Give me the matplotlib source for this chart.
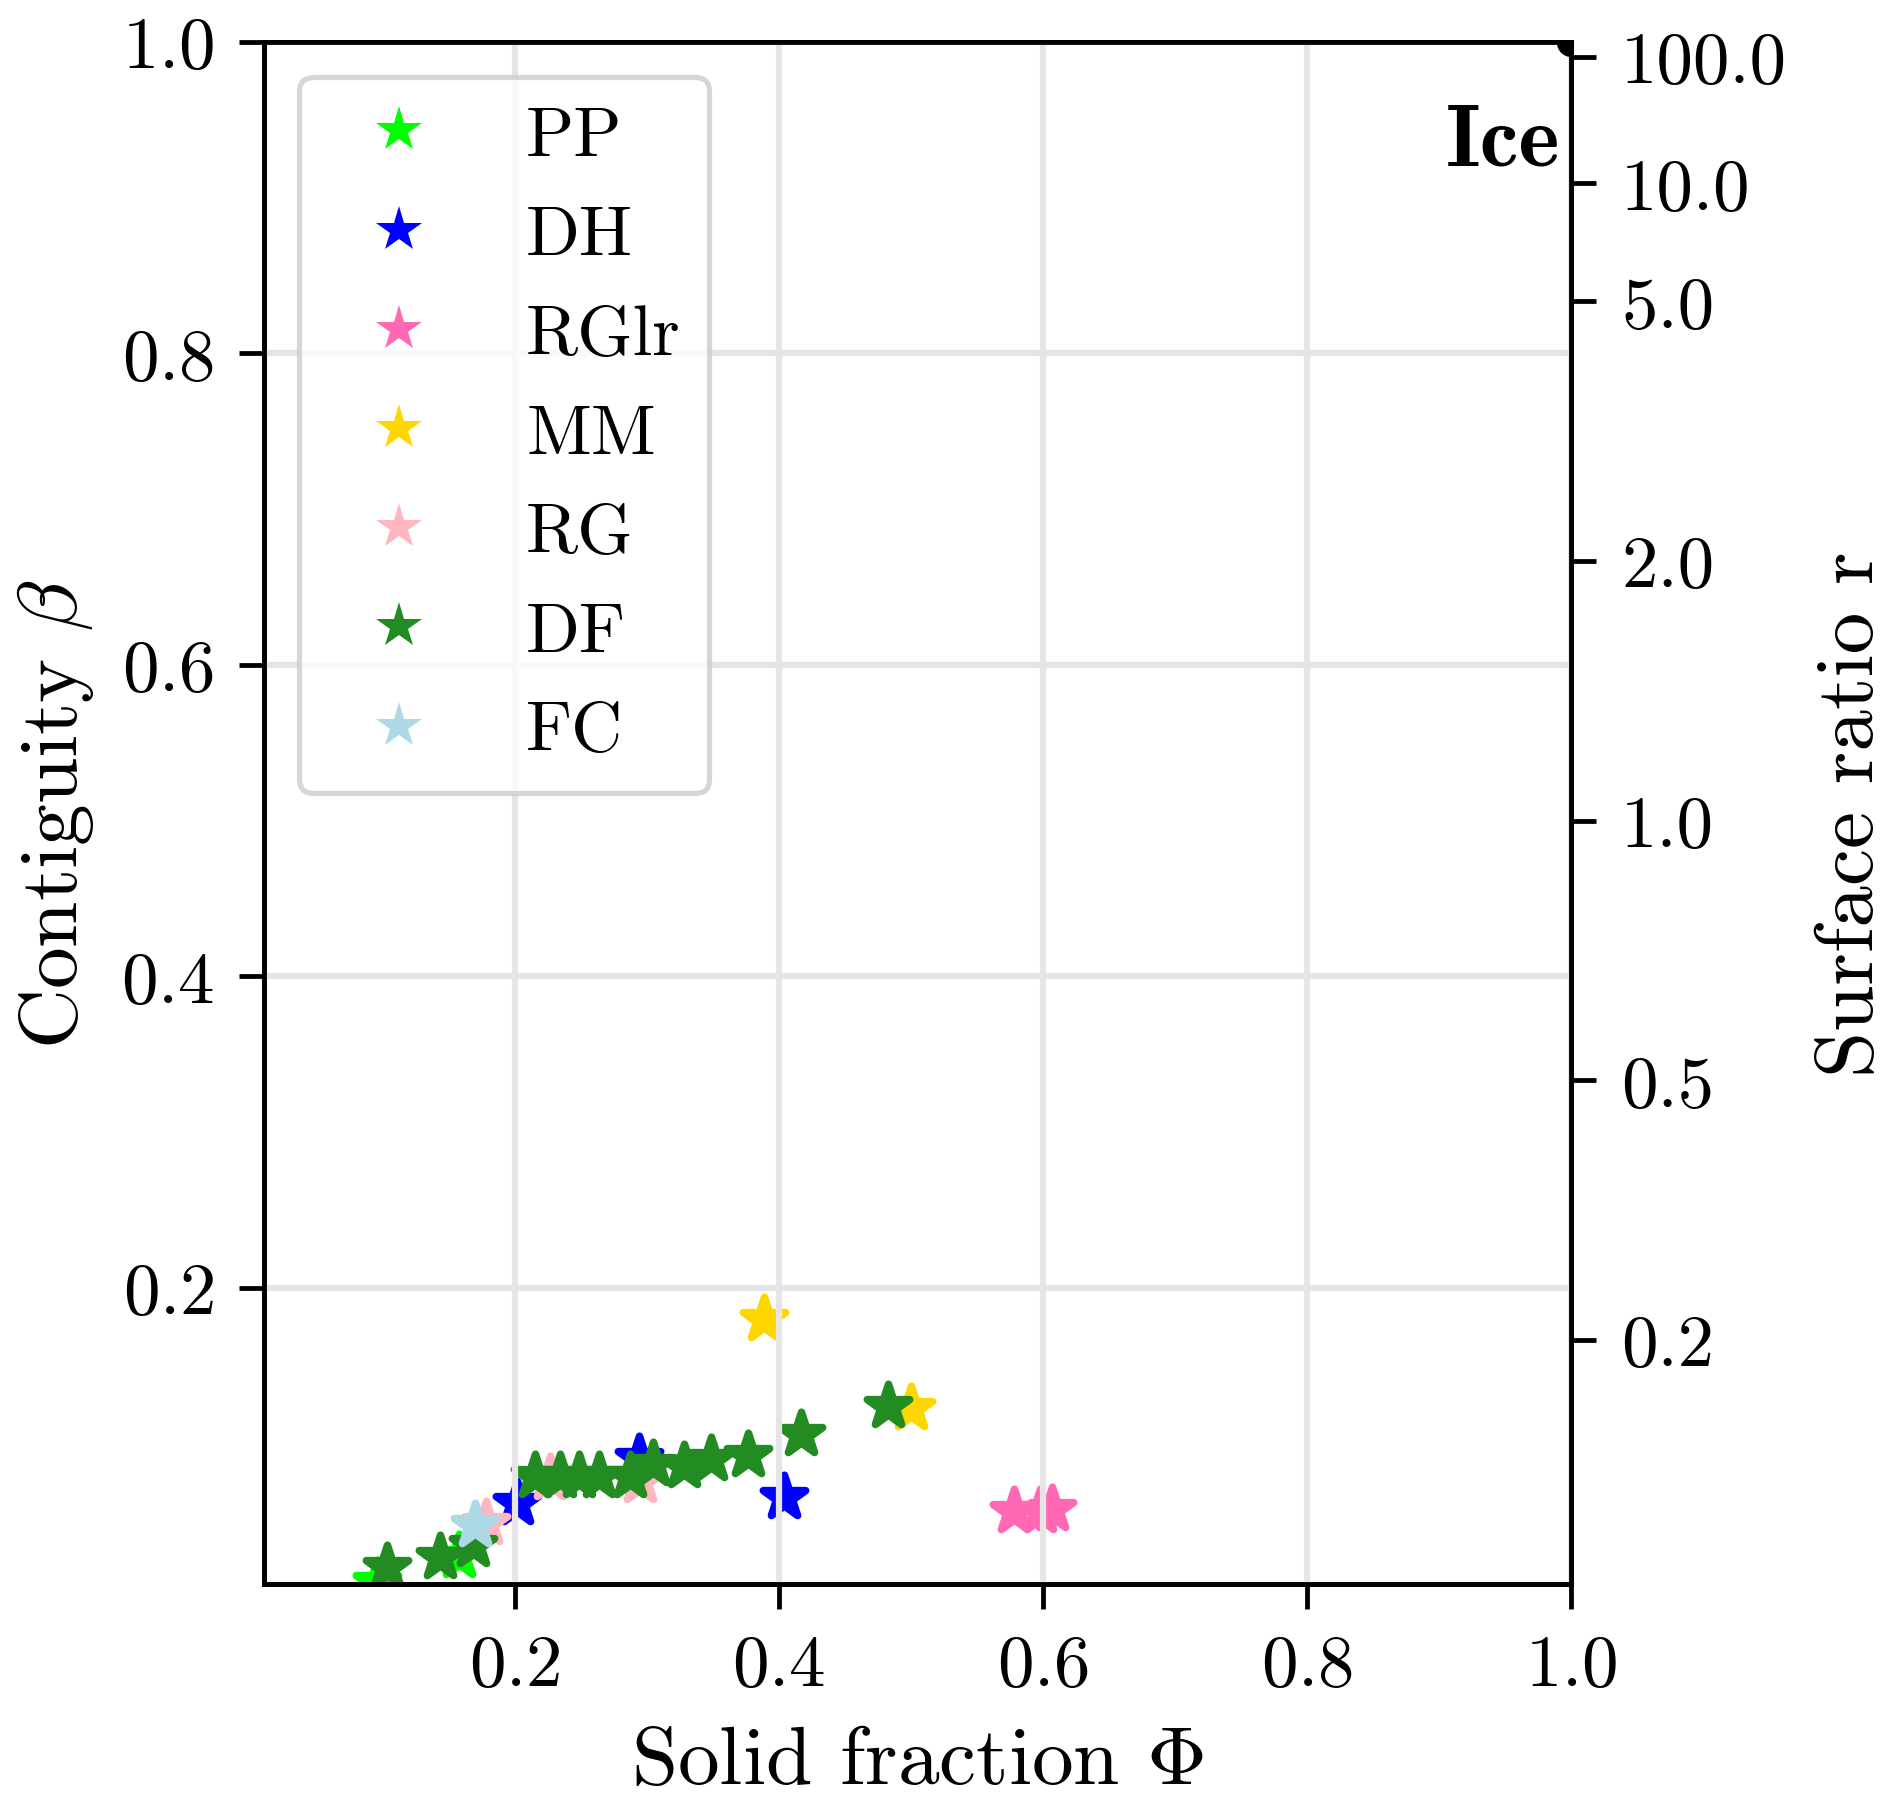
import matplotlib
matplotlib.use("Agg")
import matplotlib.pyplot as plt
from matplotlib.lines import Line2D

plt.rcParams['font.family'] = ['cmr10', 'DejaVu Sans']
plt.rcParams['mathtext.fontset'] = 'cm'
plt.rcParams['axes.formatter.use_mathtext'] = True

# ---- data ----
categories = ['PP', 'DH', 'RGlr', 'MM', 'RG', 'DF', 'FC']
colors = ['#00ff00', '#0000ff', '#ff69b4', '#ffd700', '#ffb6c1', '#228b22', '#add8e6']

PP_x = [0.096, 0.158]
PP_y = [0.011, 0.028]
DH_x = [0.202, 0.294, 0.404]
DH_y = [0.062, 0.091, 0.066]
RGlr_x = [0.578, 0.598, 0.607]
RGlr_y = [0.057, 0.057, 0.058]
MM_x = [0.389, 0.500]
MM_y = [0.180, 0.123]
RG_x = [0.178, 0.227, 0.295]
RG_y = [0.049, 0.078, 0.076]
DF_x = [0.103, 0.143, 0.168, 0.215, 0.234, 0.249, 0.264, 0.287, 0.305, 0.328,
        0.349, 0.377, 0.417, 0.483]
DF_y = [0.021, 0.027, 0.035, 0.079, 0.079, 0.079, 0.079, 0.079, 0.087, 0.086,
        0.090, 0.093, 0.106, 0.124]
FC_x = [0.170]
FC_y = [0.048]
ice_x = [1.0]
ice_y = [1.0]

x_ticks = [0.2, 0.4, 0.6, 0.8, 1.0]
y_ticks = [0.2, 0.4, 0.6, 0.8, 1.0]
r_ticks = [100.0, 10.0, 5.0, 2.0, 1.0, 0.5, 0.2]
r_labels = ['100.0', '10.0', '5.0', '2.0', '1.0', '0.5', '0.2']

series_x = [PP_x, DH_x, RGlr_x, MM_x, RG_x, DF_x, FC_x]
series_y = [PP_y, DH_y, RGlr_y, MM_y, RG_y, DF_y, FC_y]

# ---- figure ----
fig = plt.figure(figsize=(1892 / 300, 1806 / 300), dpi=300)
ax = fig.add_axes([0.1395, 0.1224, 0.6908, 0.854])

for xs, ys, c in zip(series_x, series_y, colors):
    ax.scatter(xs, ys, marker='*', s=115, color=c, edgecolors=c,
               linewidths=1.8, zorder=1)

ax.plot(ice_x, ice_y, 'o', color='black', ms=6, zorder=3)
ax.text(0.992, 0.921, 'Ice', ha='right', va='baseline', fontsize=21,
        family='cmb10')

ax.set_xlim(0.01, 1.0)
ax.set_ylim(0.01, 1.0)
ax.set_xticks(x_ticks)
ax.set_yticks(y_ticks)
ax.set_axisbelow(False)
ax.grid(True, color='#e5e5e5', linewidth=1.5)

for s in ax.spines.values():
    s.set_linewidth(1.15)
ax.tick_params(axis='both', labelsize=17.5, width=1.15, length=6, pad=6)

ax.set_xlabel(r'Solid fraction $\Phi$', fontsize=20, labelpad=6.5)
ax.set_ylabel(r'Contiguity $\beta$', fontsize=20, labelpad=6)

handles = [Line2D([], [], marker='*', linestyle='none', markersize=11.5,
                  markerfacecolor=c, markeredgecolor=c, markeredgewidth=0)
           for c in colors]
leg = ax.legend(handles, categories, loc='upper left', fontsize=17,
                framealpha=0.8, edgecolor='0.8', fancybox=True)
leg.get_frame().set_linewidth(1.25)

ax2 = ax.twinx()
ax2.set_ylim(ax.get_ylim())
ax2.set_yticks([r / (1 + r) for r in r_ticks], r_labels)
ax2.tick_params(axis='y', labelsize=17.5, width=1.15, length=6, pad=6)
for s in ax2.spines.values():
    s.set_linewidth(1.15)
ax2.set_ylabel('Surface ratio r', fontsize=20, labelpad=7)

fig.savefig('out.png', dpi=300)
